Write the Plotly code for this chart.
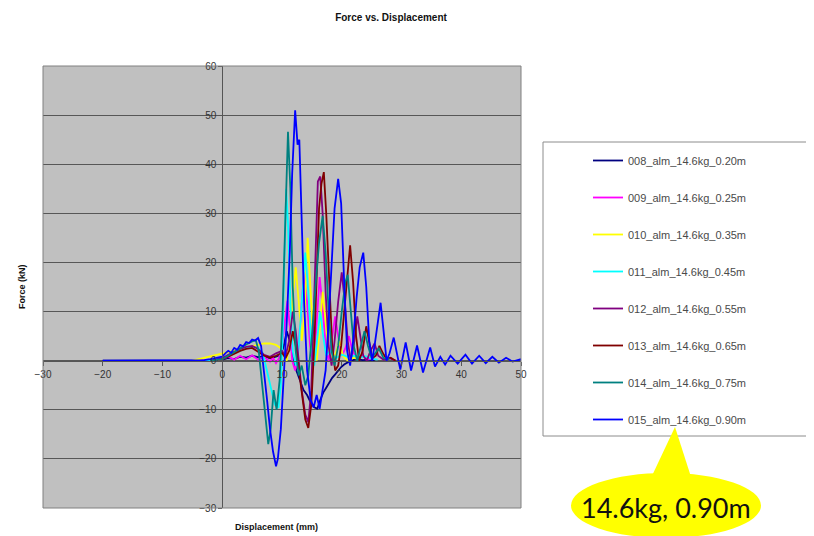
import plotly.graph_objects as go

# ---------------- data ----------------
names = [
    "008_alm_14.6kg_0.20m",
    "009_alm_14.6kg_0.25m",
    "010_alm_14.6kg_0.35m",
    "011_alm_14.6kg_0.45m",
    "012_alm_14.6kg_0.55m",
    "013_alm_14.6kg_0.65m",
    "014_alm_14.6kg_0.75m",
    "015_alm_14.6kg_0.90m",
]
colors = ["#000080", "#FF00FF", "#FFFF00", "#00FFFF",
          "#800080", "#800000", "#008080", "#0000FF"]

x008 = [-20, -15, -10, -5, -2, 0, 1, 2, 3, 4, 5, 6, 7, 8, 9, 9.8, 10.3, 10.8, 11.3, 11.8, 12.4, 13.0, 13.6, 14.2,
        14.8, 15.4, 15.9, 16.4, 16.9, 17.4, 17.9, 18.4, 18.9, 19.4, 19.9, 20.4, 20.9, 21.5, 22.5, 23.5, 24.5, 25.5]
y008 = [0, 0, 0, 0, 0, 0.2, 0.5, 0.3, 0.8, 0.6, 1.0, 0.7, 0.9, 0.5, 0.8, 1.2, 3, 6, 4, 1, -2, -4, -6, -7,
        -8.5, -9.5, -9.8, -8, -6.5, -5.5, -4.5, -3.5, -2.8, -2, -1.3, -0.8, -0.4, 0, 0.3, 0.1, 0.2, 0]

x009 = [-4, -2, 0, 1, 2, 3, 4, 5, 6, 7, 8, 8.5, 9, 9.5, 10, 10.5, 10.9, 11.3, 11.7, 12.2, 12.7, 13.2, 13.7, 14.2,
        14.7, 15.2, 15.7, 16.3, 16.8, 17.3, 17.8, 18.3, 18.9, 19.4, 20, 20.6, 21.2, 21.8, 22.5, 23.5, 24.5, 25.5]
y009 = [0, 0.2, 0.3, 0.8, 0.2, 1.0, 0.3, 1.1, 0.2, 0.8, -0.2, 0.6, -0.5, 0.5, 3, 8, 12.2, 7, 0, -2, 2, 10, 18, 12,
        3, 0, 6, 17, 11, 3, 0, 4, 9, 5, 1, 2.5, 5, 2, 0.5, 1, 0.3, 0.5]

x010 = [-5, -4, -3, -2, -1, 0, 1, 2, 3, 4, 5, 6, 7, 8, 9, 9.8, 10.3, 10.8, 11.3, 11.8, 12.3, 12.8, 13.3, 13.8,
        14.3, 14.8, 15.3, 15.8, 16.3, 16.8, 17.3, 17.8, 18.4, 19, 19.6, 20.2, 21, 22, 23]
y010 = [0, 0.3, 0.6, 0.9, 1.2, 1.5, 1.8, 2.1, 2.4, 2.7, 3.0, 3.2, 3.5, 3.5, 3.2, 2.5, 1, 0, 4, 13, 19, 12, 4, 10,
        25, 14, 3, 0, 6, 14, 8, 2, 0, 1.5, 4, 1, 0, 0.6, 0.2]

x011 = [-3, -1, 0, 1, 2, 3, 4, 5, 6, 6.8, 7.5, 8.2, 8.8, 9.4, 9.8, 10.1, 10.4, 10.7, 11.0, 11.4, 11.8, 12.3, 12.8,
        13.3, 13.9, 14.4, 14.9, 15.4, 15.9, 16.4, 16.9, 17.4, 18, 19, 20, 21, 22, 23, 24, 25, 26]
y011 = [0, 0.2, 0.5, 1, 1.5, 2, 2.5, 2.8, 2.6, 1.5, -2, -6, -9, -9.6, -5, 5, 20, 35, 28, 12, 2, -1, 3,
        12, 22, 14, 3, -1, 4, 10, 5, 1, 2, 0.5, 1.2, 0.8, 1.0, 0.6, 0.9, 0.4, 0.2]

x012 = [-2, 0, 1, 2, 3, 4, 5, 6, 7, 8, 9, 10, 10.6, 11.2, 11.8, 12.3, 12.8, 13.3, 13.9, 14.4, 14.9, 15.3, 15.7,
        16.0, 16.4, 16.8, 17.3, 17.8, 18.3, 18.8, 19.4, 20.0, 20.5, 21, 21.5, 22, 22.6, 23.1, 23.6, 24.2, 24.8,
        25.5, 26.1, 27, 28, 29]
y012 = [0, 0.5, 1.2, 1.8, 2.4, 2.8, 3.0, 2.4, 1.2, 0.8, 1.5, 2, 1, 4, 10, 6, 0, -6, -11, -12.5, -6, 8, 25,
        36.5, 37.5, 30, 14, 3, -1, 4, 12, 18, 12, 4, 0, 3, 9, 5, 1, 0, 2,
        3.5, 1, 0.2, 0.5, 0]

x013 = [-1, 0, 1, 2, 3, 4, 5, 6, 7, 8, 9, 10, 10.6, 11.2, 11.8, 12.3, 12.8, 13.3, 13.9, 14.4, 14.9, 15.4, 15.8,
        16.2, 16.6, 17.0, 17.4, 17.9, 18.4, 18.9, 19.4, 19.9, 20.4, 20.9, 21.4, 21.9, 22.4, 22.9, 23.5, 24.1,
        24.6, 25.1, 25.7, 26.3, 26.9, 27.5, 28.2, 29]
y013 = [0, 0.3, 0.8, 1.4, 2, 2.4, 2.6, 1.8, 1.0, 0.6, 1.0, 1.6, 0.5, 2, 6, 3, -2, -7, -12, -13.7, -9, 3, 18,
        31, 36, 38.4, 30, 15, 3, -2, -1, 3, 10, 18, 23.5, 16, 5, 0, 2, 7,
        4, 0.5, 1, 3, 1.5, 0.3, 0.6, 0]

x014 = [-2, 0, 1, 2, 3, 4, 5, 5.6, 6.1, 6.6, 7.1, 7.7, 8.1, 8.6, 9.1, 9.6, 10.1, 10.5, 11.0, 11.4, 11.8, 12.3,
        12.8, 13.3, 13.9, 14.4, 15, 15.6, 16.2, 16.8, 17.3, 17.8, 18.3, 18.8, 19.4, 20, 20.6, 21.0, 21.5, 22,
        22.6, 23.2, 23.8, 24.4, 25, 25.6, 26.2, 27, 28]
y014 = [0, 0.3, 1, 1.8, 2.6, 3.3, 3.9, 4.2, 2, -4, -11, -17, -14, -6, -10, -4, 10, 28, 46.6, 35, 15, 2,
        -3, -1, -5, -3, 5, 15, 24, 29.5, 22, 10, 2, -1, 3, 10, 16, 17.5, 10, 3,
        0, 3, 6, 3, 0.5, 1.5, 2.5, 0.5, 0.3]

x015 = [-20, -15, -10, -5, -3, -2, -1, 0, 0.5, 1, 1.5, 2, 2.5, 3, 3.5, 4, 4.5, 5, 5.5, 6, 6.5, 7, 7.5, 8, 8.5,
        9, 9.3, 9.8, 10.3, 10.8, 11.3, 11.7, 12.2, 12.6, 12.9, 13.3, 13.7, 14.2, 14.8, 15.3, 15.8, 16.3, 16.8,
        17.3, 17.8, 18.3, 18.8, 19.4, 19.9, 20.4, 20.9, 21.4, 21.9, 22.5, 23, 23.6, 24.1, 24.6, 25.1, 25.6,
        26.1, 26.5, 27, 27.5, 28, 28.7, 29.4, 29.8, 30.7, 31.6, 32.6, 33.6, 34.8, 35.6, 36.5, 37.3, 38.2,
        39.4, 40.7, 41.8, 43, 44.1, 45.2, 46.3, 47.5, 48.6, 50]
y015 = [0, 0, 0, 0, 0.1, 0.3, 0.5, 0.8, 1.5, 2.0, 1.6, 2.6, 2.2, 3.2, 2.9, 3.8, 3.6, 4.3, 4.1, 4.6, 3.0, -2, -8,
        -14, -18.5, -21.5, -20, -14, -4, 8, 22, 38, 51, 44, 45, 30, 12, -2, -8, -9.5, -7, -9.8, -6,
        -2, 8, 20, 31, 37, 32, 16, 2, -1, 4, 13, 19, 22, 15, 4, 0, 4,
        9, 11.8, 6, 0, 1.5, 4.7, 0.5, -1.8, 3.7, -2, 3.1, -2.4, 2.7, -1.2, 0.8, -0.8, 1.0,
        -0.6, 1.2, -0.6, 1.0, -0.5, 0.8, -0.4, 0.6, -0.2, 0.3]

xs = [x008, x009, x010, x011, x012, x013, x014, x015]
ys = [y008, y009, y010, y011, y012, y013, y014, y015]

x_ticks = [-30, -20, -10, 0, 10, 20, 30, 40, 50]
y_ticks = [-30, -20, -10, 0, 10, 20, 30, 40, 50, 60]

title_text = "Force vs. Displacement"
x_title = "Displacement (mm)"
y_title = "Force (kN)"
callout_text = "14.6kg, 0.90m"

# ---------------- geometry helpers (screen pixel -> paper) ----------------
# The page body has an 8px default margin, so the figure starts at screen (8, 8).
OFF = 8
W, H = 814, 536
PLOT_L, PLOT_R, PLOT_T, PLOT_B = 43, 521, 66, 508   # plot area, screen pixels
ML = PLOT_L - OFF
MT = PLOT_T - OFF
MB = H - (PLOT_B - OFF)
MR = 4
PW, PH = W - ML - MR, H - MT - MB


def px(X):
    return (X - OFF - ML) / PW


def py(Y):
    return (H - MB - (Y - OFF)) / PH


xdom_end = px(PLOT_R)
xmin, xmax = x_ticks[0], x_ticks[-1]
ymin, ymax = y_ticks[0], y_ticks[-1]

fig = go.Figure()
for n, c, xv, yv in zip(names, colors, xs, ys):
    fig.add_trace(go.Scatter(x=xv, y=yv, mode="lines", name=n, legendgroup=n,
                             line=dict(color=c, width=1.8)))

FONT = "Liberation Sans, Arial, sans-serif"

fig.update_layout(
    width=W, height=H,
    margin=dict(l=ML, r=MR, t=MT, b=MB, autoexpand=False),
    paper_bgcolor="white",
    plot_bgcolor="#C0C0C0",
    font=dict(family=FONT, size=10, color="#333333"),
    title=dict(text="<b>" + title_text + "</b>", x=(391 - OFF) / W, xref="container", xanchor="center",
               y=1 - (17 - OFF) / H, yref="container", yanchor="middle",
               font=dict(size=10, color="#111111", family=FONT)),
    xaxis=dict(domain=[0, xdom_end], range=[xmin, xmax], tickvals=x_ticks,
               anchor="free", position=(0 - ymin) / (ymax - ymin),
               showgrid=False, zeroline=False, showline=True, linecolor="#555555", linewidth=1,
               ticks="outside", ticklen=4, tickcolor="#555555",
               tickfont=dict(size=10, color="#333333")),
    yaxis=dict(domain=[0, 1], range=[ymin, ymax], tickvals=y_ticks,
               anchor="free", position=xdom_end * (0 - xmin) / (xmax - xmin),
               showgrid=True, gridcolor="#575757", gridwidth=1,
               zeroline=False, showline=True, linecolor="#555555", linewidth=1,
               ticks="outside", ticklen=4, tickcolor="#555555",
               tickfont=dict(size=10, color="#333333")),
    legend=dict(x=px(588), y=py(146), xanchor="left", yanchor="top",
                bgcolor="rgba(0,0,0,0)", borderwidth=0, tracegroupgap=18, itemwidth=30,
                font=dict(size=11, color="#4A4A4A", family=FONT)),
    showlegend=True,
)

shapes = [
    # plot area border
    dict(type="rect", xref="x domain", yref="y domain", x0=0, x1=1, y0=0, y1=1,
         line=dict(color="#808080", width=1), layer="above"),
    # legend box
    dict(type="rect", xref="paper", yref="paper", x0=px(543), x1=px(810), y0=py(436), y1=py(142),
         line=dict(color="#8C8C8C", width=1), fillcolor="white", layer="above"),
    # callout ellipse
    dict(type="circle", xref="paper", yref="paper", x0=px(571), x1=px(761), y0=py(538), y1=py(473),
         line=dict(width=0), fillcolor="#FFFF00", layer="above"),
    # callout pointer
    dict(type="path", xref="paper", yref="paper",
         path="M {} {} L {} {} L {} {} Z".format(px(675), py(427), px(650), py(480), px(692), py(480)),
         line=dict(width=0), fillcolor="#FFFF00", layer="above"),
]
fig.update_layout(shapes=shapes)

fig.add_annotation(text="<b>" + x_title + "</b>", xref="paper", yref="paper", x=px(276), y=py(527),
                   xanchor="center", yanchor="middle",
                   showarrow=False, font=dict(size=9, color="#111111", family=FONT))
fig.add_annotation(text="<b>" + y_title + "</b>", xref="paper", yref="paper", x=px(22), y=py(287),
                   xanchor="center", yanchor="middle",
                   showarrow=False, textangle=-90, font=dict(size=9, color="#111111", family=FONT))
fig.add_annotation(text=callout_text, xref="paper", yref="paper", x=px(666), y=py(507),
                   xanchor="center", yanchor="middle",
                   showarrow=False, font=dict(size=27, color="#111111", family="Lato, sans-serif"))

fig.write_html("out.html")
